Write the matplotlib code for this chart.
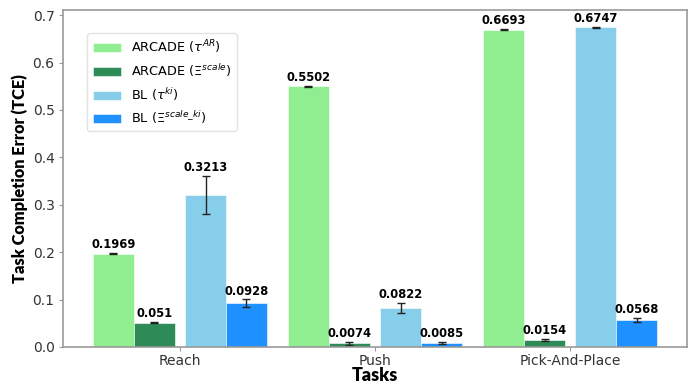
import matplotlib
matplotlib.use("Agg")
import matplotlib.pyplot as plt
import numpy as np

tasks = ["Reach", "Push", "Pick-And-Place"]
series_labels = [r"ARCADE ($\tau^{AR}$)", r"ARCADE ($\Xi^{scale}$)",
                 r"BL ($\tau^{ki}$)", r"BL ($\Xi^{scale\_ki}$)"]
arcade_tau = [0.1969, 0.5502, 0.6693]
arcade_xi = [0.051, 0.0074, 0.0154]
bl_tau = [0.3213, 0.0822, 0.6747]
bl_xi = [0.0928, 0.0085, 0.0568]
arcade_tau_err = [0.001, 0.001, 0.0015]
arcade_xi_err = [0.001, 0.0035, 0.002]
bl_tau_err = [0.040, 0.011, 0.001]
bl_xi_err = [0.0075, 0.0015, 0.0042]
value_labels = [["0.1969", "0.5502", "0.6693"],
                ["0.051", "0.0074", "0.0154"],
                ["0.3213", "0.0822", "0.6747"],
                ["0.0928", "0.0085", "0.0568"]]

values = [arcade_tau, arcade_xi, bl_tau, bl_xi]
errors = [arcade_tau_err, arcade_xi_err, bl_tau_err, bl_xi_err]
colors = ["#90EE90", "#2E8B57", "#87CEEB", "#1E90FF"]

label_family = "Lato"

fig = plt.figure(figsize=(6.99, 3.83), dpi=100)
ax = fig.add_axes([0.090, 0.094, 0.893, 0.880])

x = np.arange(len(tasks))
width = 0.21
offsets = [-0.341, -0.131, 0.131, 0.341]

for vals, errs, col, lab, off, vl in zip(values, errors, colors, series_labels, offsets, value_labels):
    ax.bar(x + off, vals, width, color=col, label=lab, edgecolor="white", linewidth=0.4,
           yerr=errs, capsize=3, error_kw=dict(ecolor="#222222", elinewidth=1, capthick=1))
    for xi, v, e, t in zip(x, vals, errs, vl):
        ax.text(xi + off, v + e + 0.004, t, ha="center", va="bottom",
                fontsize=8.3, fontweight="bold", color="black")

ax.set_xlim(-0.6, 2.6)
ax.set_ylim(0, 0.711)
ax.set_xticks(x)
ax.set_xticklabels(tasks, fontsize=10)
ax.set_yticks(np.arange(0, 0.71, 0.1))
ax.set_yticklabels([f"{t:.1f}" for t in np.arange(0, 0.71, 0.1)], fontsize=10)
ax.tick_params(colors="#333333", length=3, color="#999999", pad=3)
ax.tick_params(axis="x", pad=2)
for sp in ax.spines.values():
    sp.set_color("#999999")
    sp.set_linewidth(1.2)

ax.set_xlabel("Tasks", family=label_family, fontsize=13, fontweight="heavy", labelpad=-1)
ax.set_ylabel("Task Completion Error (TCE)", family=label_family, fontsize=11.8,
              fontweight="heavy", labelpad=3)

ax.legend(loc="upper left", bbox_to_anchor=(0.029, 0.95), fontsize=9.3,
          frameon=True, edgecolor="#dddddd", handlelength=2.2)

fig.savefig("out.png", dpi=100)
